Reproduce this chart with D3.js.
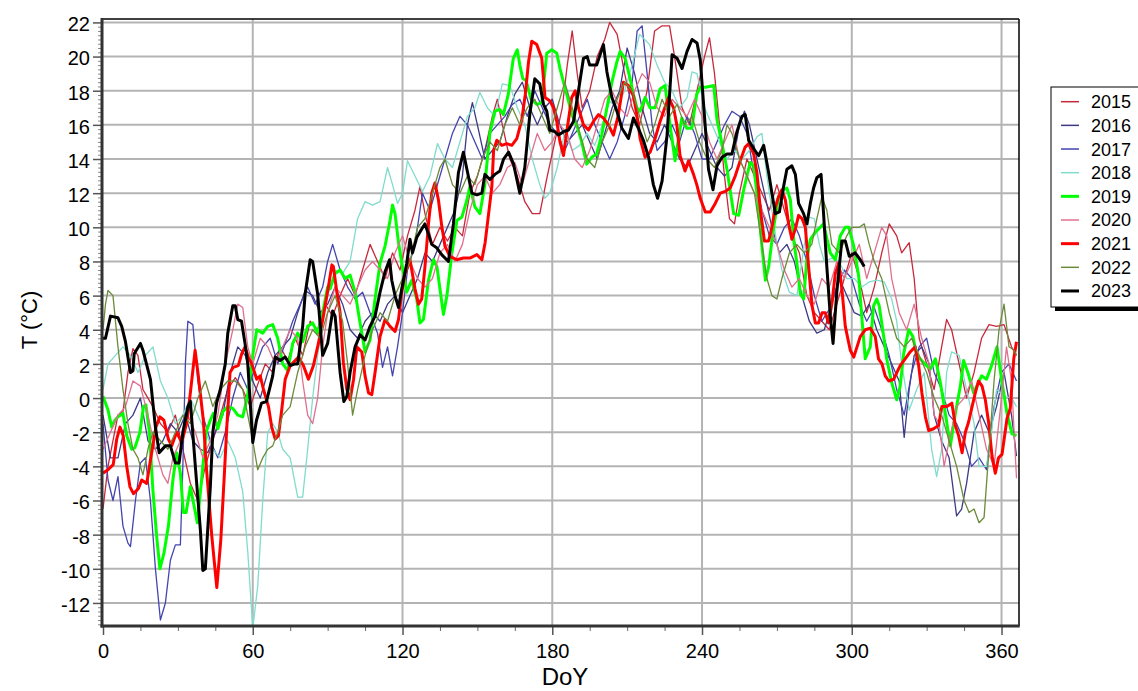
<!DOCTYPE html>
<html>
<head>
<meta charset="utf-8">
<script src="https://cdnjs.cloudflare.com/ajax/libs/d3/7.8.5/d3.min.js"></script>
<style>
  body { margin: 0; background: #fff; }
  svg { display: block; font-family: "Liberation Sans", Arial, sans-serif; }
</style>
</head>
<body>
<svg id="chart" width="1138" height="691"></svg>
<script>
// daily mean temperature, [day of year, T in degC]
var s2015 = [[0,-6.5],[2,-4],[4,-2.5],[6,-1],[8,-0.8],[10,1.5],[12,2.9],[14,2.5],[16,0.5],[18,0],[20,-0.5],[23,-1.5],[26,-2],[29,-1],[32,-3],[35,-5],[38,-6],[41,-4],[44,-2.5],[47,-1],[50,0.5],[53,1.2],[56,0.5],[59,-0.5],[62,0.8],[65,2],[68,1.5],[71,3],[74,2.2],[77,3.5],[80,2.5],[83,4.5],[86,4],[89,5.5],[92,4.8],[95,6],[98,7],[101,6],[104,7.5],[107,9],[110,8],[113,7],[116,8.5],[119,7.5],[122,9.5],[125,11],[127,12.4],[129,10.8],[132,9],[135,10],[138,9.2],[141,10],[144,9.5],[147,12],[150,13],[153,14.5],[156,16.5],[158,17.5],[160,16],[163,14],[166,13],[169,11.5],[172,10.8],[175,10.8],[178,13],[181,15],[184,17],[186,19.5],[188,21.5],[190,19],[192,17],[195,18],[198,20],[201,21],[203,22],[206,21.3],[209,19],[212,17],[215,16],[218,18],[221,21.5],[224,21.8],[227,21.8],[229,20],[232,17],[235,16],[238,18],[241,20],[243,21.1],[245,19],[247,16],[249,13],[251,10.5],[253,10.2],[255,12],[258,14],[261,13],[264,12],[267,11],[270,12.5],[273,11],[276,9.5],[279,8.5],[282,6],[285,5],[288,4.5],[291,4],[294,5.5],[297,7],[300,8.5],[303,7],[306,5],[309,6.5],[312,8.5],[315,10.2],[318,9.5],[320,8.5],[323,9.1],[325,7],[327,3.5],[330,2],[333,0.5],[336,3],[338,4.6],[340,4],[343,2],[346,0],[349,1.5],[352,3.5],[355,4.3],[358,4.2],[361,4.3],[364,3],[366,2.5]];

var s2016 = [[0,-1],[3,-3.5],[6,-3.5],[9,-1.5],[12,-1],[15,0],[18,-2.5],[21,-3],[24,-2.5],[27,-1.5],[30,-2],[33,-1],[36,-2.5],[39,-3],[42,-3.2],[45,-2],[48,-1],[51,1.5],[54,3],[57,2.5],[60,1],[63,0],[66,1.5],[69,2.5],[72,3],[75,3.5],[78,5],[81,6.3],[84,6],[87,5],[90,5.5],[93,6.5],[96,5.5],[99,4],[102,3.5],[105,4.5],[108,5],[111,4.5],[114,5.5],[117,6],[120,5],[123,6],[126,7],[129,8.5],[132,8],[135,9],[138,10],[141,11],[144,13],[146,16],[148,17.3],[150,16],[153,14],[156,14.5],[159,15],[162,16.5],[165,17.8],[168,18.5],[171,17],[174,16],[177,17],[180,17.5],[183,16],[186,15],[189,15.5],[192,16],[195,15],[198,14],[201,15.5],[204,17],[207,18],[210,20.5],[213,19],[216,17],[219,15.5],[222,15],[225,16],[228,15],[231,14],[234,13.5],[237,14.5],[240,15.5],[243,14.5],[246,13.5],[249,13],[252,13.5],[255,16],[257,16.8],[259,16],[262,14],[265,12],[268,10],[271,8.5],[274,9],[277,8],[280,6],[283,4.5],[286,3.8],[289,4],[292,5.5],[295,7],[298,6],[301,5],[304,4.8],[307,5.5],[310,4],[313,3],[316,2],[319,1],[321,-2.3],[323,0.5],[325,2.5],[328,3],[331,2],[333,-1],[336,-2.5],[339,-3.5],[342,-6.9],[344,-6.5],[346,-5],[349,-2],[352,-1],[355,-2],[358,-0.5],[361,1.5],[364,-1],[366,-3.4]];

var s2017 = [[0,-1.5],[2,-4.8],[4,-6],[6,-4.6],[8,-7.5],[10,-8.5],[11,-8.7],[13,-6],[15,-3.8],[17,-3.5],[19,-6],[21,-10],[23,-13],[25,-12],[27,-9.5],[29,-8.6],[31,-8.6],[32,-4],[33,2],[34,4.5],[36,4.3],[38,1],[40,-1],[43,-2.5],[46,-3.5],[49,-2],[52,0],[55,1.5],[58,0.5],[61,1.8],[64,3],[67,3.5],[70,2],[73,3.2],[76,4.5],[79,5.5],[82,6.5],[85,5.5],[88,6.5],[90,8],[92,9],[95,7.5],[98,6.5],[101,5.8],[104,6.2],[107,5],[110,3.8],[112,1.8],[114,3],[116,1.3],[118,3],[120,5],[122,7.5],[125,9],[128,12],[131,11],[134,12.5],[137,14],[140,15.5],[143,16.5],[146,16],[149,15],[152,14],[155,15.5],[158,16],[161,16.5],[164,17.2],[167,17.5],[170,16.5],[173,18],[176,17],[179,16],[182,15.5],[185,14.5],[188,15.5],[191,16.5],[194,17.5],[197,16],[200,15],[203,14],[206,15],[209,16.5],[212,18.5],[214,21.5],[216,21.8],[218,19],[220,16],[222,14.5],[225,15],[228,16],[231,15],[234,16.5],[237,15.5],[240,14],[243,14],[246,15],[249,16],[252,16.8],[255,16.5],[258,15.5],[261,13],[264,11],[267,9.5],[270,9],[273,10],[276,10.5],[279,9.5],[282,8],[285,6],[288,4.5],[291,5.2],[294,6.5],[297,7.5],[300,7],[303,5.5],[306,4.5],[309,5.3],[312,4],[315,2.5],[318,0.5],[321,-1],[324,1.5],[327,3],[330,3.5],[333,1.5],[336,0.5],[339,-1],[342,-1.5],[345,-2.5],[348,-4],[351,-3.5],[354,-4.2],[357,-0.5],[360,1.5],[363,2],[366,1]];

var s2018 = [[0,0.5],[2,2],[5,2.5],[8,3],[11,2.5],[14,1.5],[17,2.5],[20,3],[23,1],[26,0],[29,-1.5],[32,-1],[35,0],[38,-1],[41,-2],[44,-3],[47,-3.5],[50,-2.5],[53,-3.5],[56,-5.5],[58,-9],[60,-13.5],[62,-11],[64,-6],[66,-2],[68,-1.5],[70,-2],[72,-3],[75,-3.5],[78,-5.8],[80,-5.8],[82,-3],[84,0],[86,2.5],[88,4.5],[90,6],[93,7.5],[96,7.3],[99,8],[102,10.5],[105,11.5],[108,11.3],[111,11.5],[114,13.5],[116,12.5],[118,11.4],[120,12],[122,13.9],[125,13],[128,12.1],[131,13],[134,14.9],[137,14],[140,13.5],[143,15],[146,16.5],[149,17],[151,17.9],[154,17],[157,16.5],[160,18.4],[163,18.3],[166,17],[169,16],[172,14],[175,12.5],[177,11.7],[179,12],[182,13.5],[185,15.6],[188,14.5],[191,14.8],[194,15.5],[197,14.8],[200,16],[203,17.4],[206,17],[209,18],[212,19.5],[215,21.3],[217,21],[219,20.7],[222,19.5],[225,18.5],[228,18],[231,17],[234,17.6],[236,19.1],[238,19],[241,17],[244,16],[247,15],[250,14],[253,14.5],[256,14],[259,14.5],[262,15.3],[264,15.5],[266,13],[268,11],[270,9],[272,7.5],[275,6.2],[278,6],[281,9],[283,10.6],[285,10.5],[287,9],[289,8],[292,8.2],[295,8],[298,7],[301,7],[304,6.5],[307,6.8],[310,6.9],[313,6.8],[316,5.8],[318,4.5],[320,2],[323,-0.7],[326,0.5],[329,1.5],[332,-3],[334,-4.6],[336,-3],[338,1.5],[340,2.7],[343,2.5],[346,0.5],[349,-1.5],[351,-4],[354,-4],[356,-2],[358,0.5],[361,0.1],[364,0],[366,-0.5]];

var s2019 = [[0,0.1],[2,-0.7],[3.5,-1.7],[4.8,-1.3],[6,-1.1],[8,-0.9],[9.5,-2.2],[11.5,-3],[12.8,-2.9],[14.8,-2],[16.2,-0.5],[17.2,-0.4],[18.6,-2],[20,-5.4],[21.5,-8.1],[22.8,-10],[24.4,-9.1],[26.2,-7.5],[28,-4.8],[29.5,-3.2],[31,-4.4],[32.2,-6.7],[33.3,-6.7],[35,-5.2],[36.2,-6.1],[37.8,-7.3],[39.5,-4.8],[41.3,-2],[43,-1.3],[44.2,-0.9],[46,-1.8],[48,-0.8],[50,-0.5],[52,-0.6],[54,-1],[56,-1.1],[58,0.2],[60,2.5],[61.6,4],[64,3.8],[66,4.2],[68,4.3],[70,3.5],[72,2],[74,1.6],[76,3.2],[78,3.8],[80,3.3],[82,4.2],[84,4.4],[86,3.8],[88,5],[90,6.5],[91,6.4],[93,7.3],[95,7.5],[97,7],[99,7.2],[101,6.2],[103,4.4],[105,2.7],[107,3.4],[109,5.8],[111,7.9],[113,8.9],[115,10.4],[116,11.3],[117,10.8],[118.4,9.1],[119.7,7.9],[121.7,6.2],[123.7,6.9],[125.7,5.8],[127,4.4],[128.4,4.6],[130.4,6.9],[132.4,8.1],[133.8,7.7],[135,6.4],[136.4,4.9],[137.8,6],[139.8,8.5],[141.8,10.4],[143.8,10.6],[145.8,11.6],[147,12.4],[149,11.2],[151,10.8],[153,12.5],[155,15.5],[157,16.8],[159,16.9],[160.4,16.6],[162.4,17.8],[164.4,19.9],[166,20.4],[167,19.5],[168.2,18.7],[169.5,18.6],[171.5,17.5],[173.8,17.2],[175.8,17.3],[177.8,20.2],[179.8,20.4],[181.8,20.2],[183.1,19.3],[184.5,18.5],[186.5,17.4],[187.8,16.6],[189.8,16],[191.8,15],[193.8,13.7],[195.8,14.1],[197.8,14.3],[199.8,15.4],[201.9,17],[203.9,18.5],[205.9,19.7],[207.2,20.3],[209.2,19.9],[211.2,18.7],[212.5,17.8],[213.9,17],[215.2,16.8],[217.2,17.6],[219.2,17],[221.2,17],[223.2,18.1],[225.2,18.3],[227.2,16],[229.2,13.9],[231.9,16.4],[233.9,15.8],[235.9,15.8],[237.9,17.8],[239.3,18.2],[241.5,18.2],[244.7,18.3],[246,16.3],[248,14.9],[250,13.4],[252.7,10.8],[254.7,10.7],[256.7,12.2],[259.3,13.8],[260.7,13.6],[262,12],[264,8.9],[265.4,6.9],[266.7,7.7],[268.7,10],[270.7,11.8],[272.7,12.2],[274,12.3],[275.4,11.6],[276.7,9.3],[278,7.9],[279.4,6.1],[280.7,5.8],[282,8.1],[283.4,9.3],[285.4,9.7],[287.4,10],[288.7,10.2],[290.1,9.3],[291.4,8.5],[293.4,8.1],[295.4,9.5],[297.4,10],[298.8,10],[300.8,8.9],[302.8,7.1],[304.1,4.6],[305.4,2.3],[307.4,3],[308.7,5.4],[310,5.8],[311,5.4],[312.8,3.6],[314,2.3],[316,0.9],[318,-0.1],[319.4,0.7],[320.8,2.6],[322.8,4],[324.5,3.6],[326,2.5],[328,2.2],[330,1.9],[331.5,1.7],[333.5,2.3],[335.5,0.9],[337.5,-0.9],[339.5,-2.8],[341.5,-0.9],[343.5,0.7],[344.8,2.2],[346.5,1.5],[348.8,0.3],[352,1.3],[354,1.1],[356,1.9],[358.2,3],[360,1.1],[362.2,-0.9],[364.2,-2.1],[366,-2.2]];

var s2020 = [[0,-3],[3,-2],[6,-1],[9,-0.5],[12,1],[15,0.7],[18,-1],[21,-3],[24,-4.5],[26,-5],[28,-3.5],[31,-2.5],[34,-1],[37,-2],[40,-3.5],[43,-2.5],[46,-1],[49,2],[52,4],[54,5.5],[56,5.3],[58,3],[60,2],[63,3.5],[66,3],[69,2],[72,3],[75,4],[78,3.5],[80,1],[82,-1],[84,-1.5],[86,0],[88,3],[90,5],[93,6.5],[96,6],[99,5.5],[102,6.5],[105,7.5],[108,8],[111,7.5],[114,7],[117,8.5],[120,9.5],[123,8],[126,7],[129,6.5],[132,7],[135,8.5],[138,9],[141,8],[144,9],[147,11],[150,12.5],[153,13],[156,12],[159,12.5],[162,13.5],[165,13.8],[168,12.5],[171,14],[174,15.5],[177,14.5],[180,15],[183,16],[186,15.5],[189,14],[192,13.5],[195,14.5],[198,16],[201,17.5],[204,18],[207,17],[210,16.5],[213,18],[216,19],[219,18.5],[222,17],[225,16.5],[228,17.5],[231,17],[234,16.5],[237,17.5],[240,16.5],[243,15],[246,14],[249,15],[252,16],[255,14],[258,13],[261,12],[264,11],[267,10],[270,9],[273,7.5],[276,6.5],[279,7],[282,6],[285,5.5],[288,7],[291,6.5],[294,8],[297,7],[300,8],[303,9],[306,7],[309,8.5],[312,10],[314,9.5],[316,7],[319,5],[322,4],[325,5.5],[328,3.5],[331,2],[333,-1],[335,-1.5],[337,-4],[339,-2.5],[342,-0.5],[345,0],[348,1],[351,-1],[354,-3],[357,-4],[360,0],[362,3],[364,1],[366,-4.7]];

var s2021 = [[0,-4.4],[2,-4.2],[4.1,-3.9],[5.5,-2.4],[6.8,-1.7],[8.1,-2.2],[9.5,-4],[10.8,-5.2],[12.2,-5.6],[14.2,-5.3],[15.5,-4.8],[17.5,-5],[19.5,-3.2],[21.2,-1.7],[22.8,-1.1],[24.4,-1.3],[26.2,-2.4],[27.5,-2.8],[29.5,-2],[31.5,-2.6],[33.5,-1.5],[35,0.3],[36.9,2.8],[38.2,1.3],[40.2,-1.3],[41.5,-4.2],[43.6,-8.1],[45.6,-11.1],[47.2,-8.3],[48.5,-4.8],[49.6,-1.7],[50.9,1.5],[52.2,1.8],[54.2,1.9],[55.6,2.6],[56.9,3],[58.2,2.4],[59.6,2],[61.6,1.1],[63,1.3],[64.3,0.5],[66.3,-0.5],[67.6,-1.7],[69,-2.4],[70.3,-2.2],[71.6,-0.7],[73,1.1],[75,1.9],[77,2.2],[78.3,2.4],[80.3,1.9],[82.3,1.1],[84.3,1.9],[86.3,3.2],[88.3,4.8],[90.3,6.5],[91.7,7.8],[92.3,7.7],[93.7,6.2],[95,5],[96.3,2.1],[97.7,0.5],[99,-0.1],[100.4,1.1],[101.7,3],[103.7,2.7],[105,1.3],[106.4,0.3],[107.7,0.2],[109,1.5],[111,3.6],[113,4.6],[115,4.2],[117,3.9],[118.4,4.6],[119.7,6.2],[121,7.3],[123,8.1],[125,6.4],[126.4,5.5],[127.7,5.8],[129,7.7],[130.4,10.2],[131.7,12],[133,12.6],[134.4,11.6],[135.7,10.1],[137,8.9],[139,8.3],[141.8,8.1],[144.4,8.2],[147,8.2],[149.8,8.4],[151.8,8.1],[153.1,9.1],[154.5,10.8],[155.8,12.4],[156.5,14.5],[157.8,15.1],[159.8,14.8],[161.8,14.9],[163.8,14.8],[165.8,15.2],[167.8,16.3],[169.2,17.8],[170.5,19.7],[171.8,20.9],[173.8,20.7],[175.8,19.9],[177.1,17.6],[179.1,17.4],[180.5,17],[181.8,16.2],[183.1,15],[184.5,14.2],[185.8,15.6],[187.8,17.6],[189.2,18],[190.5,17],[192.5,16],[194.5,15.7],[196.5,16.2],[198.5,16.6],[200.5,16.4],[202.5,16],[204.5,15.4],[206.5,16.6],[208.5,18.5],[210.5,18.3],[212.5,17.7],[213.9,16.6],[215.2,15.2],[217.2,14.1],[219.2,14.4],[221.2,15.2],[223.2,16.2],[224.6,16.8],[226.6,17.6],[228.6,17],[229.9,16],[231.2,14.2],[233.2,13.3],[234.6,13.9],[236.6,13.1],[237.9,12.5],[239.3,11.7],[241.3,10.9],[243.3,10.9],[245.3,11.4],[247.3,12],[249.3,12.1],[251.3,12.3],[253.3,13],[255.3,13.9],[257.3,14.7],[258.7,14.9],[260.7,14.3],[262,13.2],[263.4,11],[265,9.2],[266.7,9.2],[268,10],[269.4,11.2],[270.7,11.8],[272,12.2],[273.4,11.6],[274.7,10.2],[276,9.3],[277.4,9.9],[278.7,10.7],[280.1,10.5],[281.4,10],[282.7,7.7],[284.1,5.4],[285.4,4.4],[286.7,4.4],[288.1,5],[289.4,5],[290.7,4.4],[292.1,5.6],[293.4,7.3],[294.8,7.9],[296.1,6.3],[297.4,4.2],[299.4,2.8],[300.8,2.4],[302.1,3],[303.4,3.6],[305.4,4],[307.4,4.1],[309.4,3.6],[310.7,2.3],[312.1,2],[313.4,1.3],[314.8,1],[316.8,1.1],[318.1,1.5],[319.4,1.9],[321.4,2.3],[323.4,2.7],[325.4,3],[326.8,1.9],[328.1,0.3],[329.5,-1.1],[330.8,-1.9],[332.8,-1.8],[334.8,-1.6],[336.1,-0.5],[338.1,-0.5],[340.1,-0.3],[341.5,-1.6],[342.8,-2.2],[344.2,-3.2],[345.5,-2],[346.8,-1.4],[348.2,-0.5],[349.5,0.3],[350.8,1],[352.2,0.7],[353.5,-0.1],[354.8,-1.4],[356.2,-3.4],[357.5,-4.4],[358.8,-3.5],[360.2,-3.3],[362.2,-1.2],[363.5,-0.6],[364.9,2.3],[366,3.3]];

var s2022 = [[0,4],[1,5.5],[2,6.3],[4,6],[6,3],[8,0.5],[10,-1.5],[12,-3],[14,-3.5],[16,-4.5],[18,-3],[20,-2],[23,-2.5],[26,-3],[29,-2],[32,-1],[35,-1.5],[38,0],[41,1],[44,-0.5],[47,0.5],[50,1],[53,1],[56,0.5],[58,-1],[60,-2.5],[62,-4.2],[64,-3.5],[66,-3],[68,-2.8],[70,-2],[72,-1],[75,-0.5],[78,1.5],[81,3],[84,4],[87,3.5],[90,5],[93,6],[96,4.5],[98,2],[100,-1],[102,0.5],[105,2.5],[108,4],[111,5],[114,4.5],[117,6],[120,7],[123,8],[126,10],[129,10.5],[132,12],[135,13.5],[137,14],[140,12.5],[143,12],[146,13],[149,12.5],[152,14],[155,15],[158,14.5],[161,16],[164,17],[167,16],[170,17],[173,17.5],[176,16.5],[179,15.5],[182,17],[185,18.5],[188,17],[191,15.5],[194,14],[197,13.5],[200,15],[203,16],[206,17.5],[209,18.5],[212,18],[215,16.5],[218,15],[221,16],[224,17.5],[227,16.5],[230,17.2],[233,16],[236,16.5],[239,15],[242,14],[245,13.5],[248,14.5],[250,16],[252,15.5],[255,14],[258,13],[261,12],[264,9],[266,7],[268,6],[270,5.8],[272,7],[275,8.5],[278,9],[281,8.5],[284,9],[286,10.5],[288,11.8],[290,11],[292,9],[295,8.5],[298,9.5],[300,10],[303,10],[305,10.2],[307,9],[309,8],[312,7],[315,5],[318,3.5],[321,3],[324,3.5],[327,2.5],[330,1.5],[333,0],[336,-1],[339,-2.5],[342,-4],[345,-6],[347,-6.7],[349,-6.5],[351,-7.3],[353,-7],[355,-3],[357,1],[359,4],[361,5.5],[363,3],[365,2.8],[366,2.5]];

var s2023 = [[0,3.5],[1,3.5],[3,4.8],[6,4.7],[7.5,4.2],[9,3.3],[11,1.5],[12,1.6],[12.5,2.6],[15,3.2],[16,2.8],[19,1.1],[21,-1.7],[22.5,-3.2],[25,-2.8],[27,-2.8],[29,-3.8],[30.5,-3.8],[32,-2],[34,-0.5],[35,-0.2],[37,-4],[39,-7.7],[40,-10.1],[41,-10],[43,-5.2],[44,-2],[45.5,-0.3],[47,0.5],[49,2],[50,3.8],[52,5.4],[53,5.4],[54,4.6],[55.5,4.5],[57,3.1],[58,2],[60,-2.6],[61.5,-1.3],[63.5,-0.3],[65.5,-0.2],[67,0.7],[68,1.3],[69,2.4],[71,2.2],[73,2.4],[75,1.9],[77,2],[78,2],[80,4.2],[81,6.1],[83,8.1],[84,8],[86,6.1],[88,2.5],[90,3.2],[92,5.1],[93,4.8],[95,1.5],[96.5,-0.2],[97.7,0.1],[99,1.5],[101,3],[103,3.7],[105,3.4],[107,4.2],[109,4.8],[111,6.2],[113,7.4],[114.8,8.1],[115.7,6.9],[117,6],[118.4,5.3],[119.7,6.4],[121.7,7.9],[123,9.3],[124,8.5],[125.7,9.4],[127.7,9.9],[129,10.2],[130.4,9.6],[131.7,9],[133.7,8.8],[135.7,8.4],[138.4,8],[140.4,10.2],[142.4,13.2],[144.4,14.4],[145.8,13.4],[147.8,12],[149.8,11.9],[151.8,12],[153,13.1],[155,12.8],[157,13.1],[159,13.3],[160.5,14],[162.5,14.4],[164.5,13.7],[167,12],[169,13.5],[171,16.6],[173,18.7],[175,18.4],[176.5,17.2],[177.8,16.8],[179,15.7],[181,15.6],[182.5,15.4],[184.5,15.6],[186.5,15.7],[188.5,16.2],[190.5,18],[192.5,19.9],[194,20],[195,19.5],[197.8,19.5],[200.5,20.7],[201.9,19.1],[203.9,17.6],[205.9,16.8],[207.9,15.8],[210.5,15.2],[212.5,16.4],[214.5,15.8],[216.5,15.1],[218.6,14.1],[220.5,12.5],[222.2,11.7],[224,12.7],[226,15.4],[228,20.1],[230,19.9],[232,19.3],[234,20.3],[236,21],[238,20.8],[239.3,19.8],[241.3,15.9],[242.6,13.4],[244.4,12.2],[246,13.6],[248,14.1],[250,14.3],[252,14.3],[254,15.6],[256,16.5],[257.3,16.6],[258.7,15.1],[260.7,14.6],[262.7,14.2],[264.7,14.8],[266.7,13.2],[268,12],[269.4,10.8],[271,10.9],[272.7,12.4],[274,13.4],[276,13.6],[277.4,13.1],[278.7,11.4],[280.7,10.8],[282,10.2],[283.4,11.4],[284.7,12.3],[286,12.9],[287.7,13.1],[288.7,10.8],[290,7.7],[291.4,4.8],[292.5,3.2],[294,6.2],[296,9.2],[297.4,9.2],[299,8.3],[301.4,8.5],[303.4,8.1],[305,7.7]];

var years = ["2015","2016","2017","2018","2019","2020","2021","2022","2023"];
var series = [s2015, s2016, s2017, s2018, s2019, s2020, s2021, s2022, s2023];
var yTicks = d3.range(-12, 23, 2);
var xTicks = [0, 60, 120, 180, 240, 300, 360];

// styling
var colors = {"2015":"#c8283c","2016":"#3d3a85","2017":"#4444b0","2018":"#80dccc","2019":"#00ff00",
              "2020":"#e0708e","2021":"#ff0000","2022":"#6b8b3a","2023":"#000000"};
var thick = {"2019":true,"2021":true,"2023":true};

var svg = d3.select("#chart");
var L = 103, R = 1019, T = 19, B = 626;
var x = d3.scaleLinear().domain([0, 367]).range([L, R]);
var y = d3.scaleLinear().domain([-13.35, 22.2]).range([B, T]);

svg.append("rect").attr("width", 1138).attr("height", 691).attr("fill", "#fff");

// grid
var grid = svg.append("g").attr("stroke", "#b4b4b4").attr("stroke-width", 2);
grid.selectAll("line.h").data(yTicks).enter().append("line")
  .attr("x1", L).attr("x2", R).attr("y1", function(d){ return y(d); }).attr("y2", function(d){ return y(d); });
grid.selectAll("line.v").data(xTicks.slice(1)).enter().append("line")
  .attr("y1", T).attr("y2", B).attr("x1", function(d){ return x(d); }).attr("x2", function(d){ return x(d); });

// series
svg.append("clipPath").attr("id", "plot").append("rect")
  .attr("x", L).attr("y", T).attr("width", R - L).attr("height", B - T);
var line = d3.line().x(function(d){ return x(d[0]); }).y(function(d){ return y(d[1]); });
svg.append("g").attr("clip-path", "url(#plot)")
  .selectAll("path").data(series).enter().append("path")
  .attr("d", line)
  .attr("fill", "none")
  .attr("stroke", function(d, i){ return colors[years[i]]; })
  .attr("stroke-width", function(d, i){ return thick[years[i]] ? 3 : 1.3; })
  .attr("stroke-linejoin", "round");

// minor ticks
var yMinor = d3.range(-13.25, 22.2, 0.25).filter(function(v){ return Math.abs(v % 2) > 0.01; });
svg.append("g").attr("transform", "translate(" + L + ",0)")
  .call(d3.axisLeft(y).tickValues(yMinor).tickSize(5).tickFormat(""))
  .call(function(g){ g.select(".domain").remove(); g.selectAll("line").attr("stroke", "#888"); });
var xMinor = d3.range(15, 367, 15).filter(function(v){ return v % 60 !== 0; });
svg.append("g").attr("transform", "translate(0," + B + ")")
  .call(d3.axisBottom(x).tickValues(xMinor).tickSize(5).tickFormat(""))
  .call(function(g){ g.select(".domain").remove(); g.selectAll("line").attr("stroke", "#666"); });

// major axes (plain hyphen for negatives, as in the original)
var plain = function(d){ return String(d); };
var ya = svg.append("g").attr("transform", "translate(" + L + ",0)")
  .call(d3.axisLeft(y).tickValues(yTicks).tickSize(10).tickPadding(3).tickFormat(plain));
ya.select(".domain").remove();
ya.selectAll("line").attr("stroke", "#555").attr("stroke-width", 1.5);
ya.selectAll("text").attr("font-size", 20).attr("dy", "0.42em").attr("fill", "#000")
  .attr("font-family", "Liberation Sans, Arial, sans-serif");

var xa = svg.append("g").attr("transform", "translate(0," + B + ")")
  .call(d3.axisBottom(x).tickValues(xTicks).tickSize(9).tickPadding(9).tickFormat(plain));
xa.select(".domain").remove();
xa.selectAll("line").attr("stroke", "#555").attr("stroke-width", 1.5);
xa.selectAll("text").attr("font-size", 20).attr("fill", "#000")
  .attr("font-family", "Liberation Sans, Arial, sans-serif");

// frame
svg.append("line").attr("x1", L).attr("x2", R).attr("y1", T).attr("y2", T).attr("stroke", "#000").attr("stroke-width", 1.5);
svg.append("line").attr("x1", R).attr("x2", R).attr("y1", T).attr("y2", B).attr("stroke", "#000").attr("stroke-width", 1.5);
svg.append("line").attr("x1", L - 1).attr("x2", L - 1).attr("y1", T - 1).attr("y2", B + 1.5).attr("stroke", "#333").attr("stroke-width", 3);
svg.append("line").attr("x1", L - 2.5).attr("x2", R + 0.75).attr("y1", B).attr("y2", B).attr("stroke", "#333").attr("stroke-width", 3);

// axis titles
svg.append("text").attr("x", 565).attr("y", 685).attr("text-anchor", "middle")
  .attr("font-size", 24).text("DoY");
svg.append("text").attr("transform", "translate(37,320) rotate(-90)").attr("text-anchor", "middle")
  .attr("font-size", 22).text("T (°C)");

// legend
var lg = svg.append("g").attr("transform", "translate(1051,87)");
lg.append("rect").attr("x", 4).attr("y", 4).attr("width", 100).attr("height", 220).attr("fill", "#000");
lg.append("rect").attr("x", 0).attr("y", 0).attr("width", 100).attr("height", 220)
  .attr("fill", "#fff").attr("stroke", "#000").attr("stroke-width", 1);
var item = lg.selectAll("g.item").data(years).enter().append("g")
  .attr("transform", function(d, i){ return "translate(0," + (14.7 + i * 23.66) + ")"; });
item.append("line").attr("x1", 10).attr("x2", 28)
  .attr("stroke", function(d){ return colors[d]; })
  .attr("stroke-width", function(d){ return thick[d] ? 3 : 1.5; });
item.append("text").attr("x", 40).attr("dy", "0.36em").attr("font-size", 18).text(function(d){ return d; });
</script>
</body>
</html>
